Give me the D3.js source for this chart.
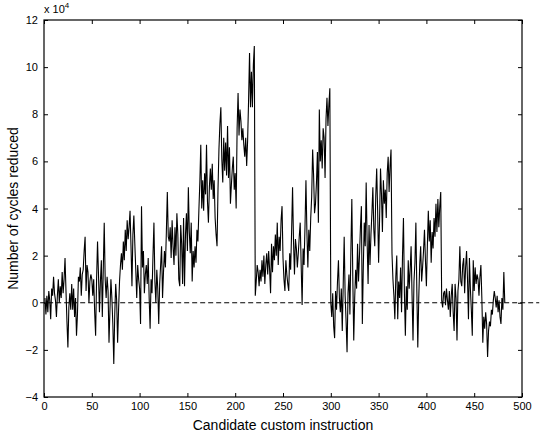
<!DOCTYPE html>
<html>
<head>
<meta charset="utf-8">
<script src="https://cdn.jsdelivr.net/npm/d3@7"></script>
<style>
body{margin:0;background:#fff;}
svg text{font-family:"Liberation Sans",Arial,Helvetica,sans-serif;fill:#000;}
</style>
</head>
<body>
<div id="chart"></div>
<script>
//cycles reduced per candidate custom instruction, in units of 1e4 (candidate 1..482)
var cyclesE4=[
	0.2,-0.5,0.3,-0.4,0.5,0.1,-0.7,0.6,0.3,1.1,
	0.4,0.1,-0.6,0.3,1.0,0.0,0.7,0.2,1.3,0.4,
	1.0,1.9,0.5,-0.8,-1.9,-0.2,0.4,-0.3,0.8,-0.3,
	0.6,-0.6,0.2,-1.4,-0.5,1.1,0.9,1.5,0.3,1.2,
	1.4,2.2,2.8,0.5,1.6,1.3,0.0,0.9,1.2,1.0,
	0.3,1.0,-0.4,-1.4,1.0,2.6,1.2,-0.4,0.9,1.8,
	-0.6,1.4,3.4,1.0,0.2,1.1,0.5,-1.7,-0.3,1.0,
	0.2,-0.9,-2.6,-0.5,0.8,0.1,-1.7,-0.3,0.9,1.6,
	2.1,1.4,2.6,1.8,3.1,2.2,3.5,2.7,3.2,3.9,
	2.4,0.7,2.9,3.7,2.5,1.4,0.2,1.6,1.0,0.6,
	-0.9,4.1,1.5,2.2,0.4,1.2,1.6,0.8,1.9,0.2,
	-1.1,1.0,0.4,2.0,3.4,0.9,0.0,1.4,0.6,-0.9,
	0.8,1.6,2.4,0.2,1.3,2.2,1.5,3.0,4.7,2.8,
	2.6,3.2,1.9,3.5,2.4,1.6,3.2,2.0,3.8,2.9,
	1.0,0.7,3.3,2.5,0.8,3.6,0.7,2.9,3.8,2.2,
	4.9,3.0,2.1,3.4,0.9,2.2,1.5,2.4,1.7,3.1,
	2.6,3.9,5.1,6.7,4.0,5.2,3.9,5.5,4.6,6.7,
	4.3,3.4,4.9,5.7,4.8,5.9,4.4,5.2,3.6,2.9,
	2.4,4.8,6.5,7.6,8.3,6.1,5.1,7.0,5.6,6.8,
	5.4,7.5,5.3,6.6,4.2,5.0,5.7,6.2,4.8,5.5,
	4.0,7.4,8.9,7.1,8.2,7.7,6.9,7.4,6.7,6.2,
	7.0,5.8,6.9,8.6,10.6,8.3,9.8,8.3,10.1,10.9,
	0.3,0.9,1.6,1.3,0.7,1.4,0.9,1.8,1.1,2.0,
	0.8,1.6,2.1,1.2,2.2,1.4,0.4,2.5,1.3,2.4,
	1.8,2.9,2.0,3.4,1.6,2.8,2.2,3.5,4.1,1.9,
	1.0,0.5,1.8,1.2,0.8,0.5,2.1,1.4,3.0,4.9,
	2.6,1.2,2.7,2.3,1.5,2.1,2.8,3.4,1.6,-0.1,
	2.3,1.6,3.2,5.2,3.0,1.5,3.1,2.2,3.6,4.5,
	6.5,5.4,3.8,4.2,5.1,6.4,3.4,8.2,6.0,6.9,
	5.7,7.4,7.0,5.3,7.8,8.7,7.5,8.4,9.1,0.0,
	-0.6,0.4,-1.0,-1.5,0.5,-0.3,0.9,1.8,0.2,-0.4,
	0.6,-1.2,0.8,2.8,0.3,-0.8,-2.1,0.4,1.2,-0.5,
	2.2,4.4,1.1,-1.6,0.2,1.4,0.6,2.5,0.9,2.0,
	3.2,4.1,-0.9,1.5,3.4,2.4,5.1,2.6,0.8,3.3,
	1.6,2.9,3.8,4.9,3.1,2.4,4.5,5.7,3.9,1.7,
	3.5,5.7,4.6,3.0,5.2,4.2,4.8,3.6,5.5,6.2,
	4.7,5.8,6.5,2.1,1.0,0.3,-0.7,1.1,2.0,-0.7,
	0.9,0.2,1.5,-0.4,2.0,3.6,0.4,-1.4,0.7,-0.3,
	1.8,0.6,1.4,2.4,0.3,-1.6,0.9,1.7,3.4,0.5,
	-1.9,0.2,1.6,2.4,0.9,1.5,2.2,3.1,1.8,0.7,
	2.4,3.9,2.6,3.5,1.7,3.0,2.3,3.6,2.8,4.2,
	3.0,4.4,3.2,4.1,4.7,0.1,-0.2,0.4,0.5,-0.1,
	0.6,0.1,-0.3,0.5,-0.6,0.3,0.8,-0.4,-1.2,0.8,
	0.2,-1.6,0.5,1.0,2.4,0.9,0.7,1.6,1.9,0.4,
	1.5,2.2,1.0,-0.7,1.9,0.6,-0.3,-1.4,1.8,0.5,
	1.5,0.8,1.2,1.0,0.3,1.1,1.6,0.2,-1.7,-0.6,
	-1.1,-0.4,-0.9,-2.3,-1.2,-0.8,-1.0,-0.3,-0.5,0.1,
	0.5,0.2,-0.2,0.3,-0.4,0.1,-0.6,-0.9,0.2,-0.3,
	1.3,0.0
];
var xTicks=[0,50,100,150,200,250,300,350,400,450,500];
var yTicks=[-4,-2,0,2,4,6,8,10,12];
var xDomain=[0,500];
var yDomain=[-4,12];
var refLine=[-4,518];//dashed zero line, runs past the right edge like the original
var xLabel="Candidate custom instruction";
var yLabel="Number of cycles reduced";

var W=542,H=439;
var margin={top:20,right:20,bottom:42,left:44};//plot box 44..522 x 20..397
var pw=W-margin.left-margin.right, ph=H-margin.top-margin.bottom;

var svg=d3.select("#chart").append("svg")
	.attr("width",W)
	.attr("height",H);
var g=svg.append("g").attr("transform","translate("+margin.left+","+margin.top+")");

var x=d3.scaleLinear().domain(xDomain).range([0,pw]);
var y=d3.scaleLinear().domain(yDomain).range([ph,0]);

var fmt=function(d){return d<0?"\u2212"+Math.abs(d):""+d;};

//axes with inward ticks (matlab look), mirrored on top/right
var axB=g.append("g").attr("transform","translate(0,"+ph+")")
	.call(d3.axisBottom(x).tickValues(xTicks).tickSizeInner(-4).tickSizeOuter(0).tickPadding(5).tickFormat(fmt));
var axL=g.append("g")
	.call(d3.axisLeft(y).tickValues(yTicks).tickSizeInner(-4).tickSizeOuter(0).tickPadding(6).tickFormat(fmt));
var axT=g.append("g")
	.call(d3.axisTop(x).tickValues(xTicks).tickSizeInner(-4).tickSizeOuter(0).tickFormat(""));
var axR=g.append("g").attr("transform","translate("+pw+",0)")
	.call(d3.axisRight(y).tickValues(yTicks).tickSizeInner(-4).tickSizeOuter(0).tickFormat(""));
[axB,axL,axT,axR].forEach(function(a){
	a.select(".domain").remove();
	a.selectAll(".tick line").attr("stroke","#000");
	a.selectAll(".tick text").attr("font-size","11px").attr("font-family","Liberation Sans, Arial, sans-serif");
});

//zero reference
g.append("line")
	.attr("x1",x(refLine[0])).attr("x2",x(refLine[1]))
	.attr("y1",y(0)).attr("y2",y(0))
	.attr("stroke","#000").attr("stroke-width",1)
	.attr("stroke-dasharray","5,3");

//the series
var line=d3.line()
	.x(function(d,i){return x(i+1);})
	.y(function(d){return y(d);});
g.append("path")
	.datum(cyclesE4)
	.attr("d",line)
	.attr("fill","none")
	.attr("stroke","#000")
	.attr("stroke-width",1.1)
	.attr("stroke-linejoin","miter");

//box
g.append("rect")
	.attr("width",pw).attr("height",ph)
	.attr("fill","none").attr("stroke","#000").attr("stroke-width",1.2);

//exponent label
var ex=g.append("text").attr("x",0).attr("y",-7).attr("font-size","11px");
ex.append("tspan").text("x 10");
ex.append("tspan").attr("dy",-5).attr("font-size","8px").text("4");

//axis titles
svg.append("text")
	.attr("x",margin.left+pw/2).attr("y",430)
	.attr("text-anchor","middle").attr("font-size","14px")
	.text(xLabel);
svg.append("text")
	.attr("transform","translate(18,"+(margin.top+ph/2)+") rotate(-90)")
	.attr("text-anchor","middle").attr("font-size","14px")
	.text(yLabel);
</script>
</body>
</html>
